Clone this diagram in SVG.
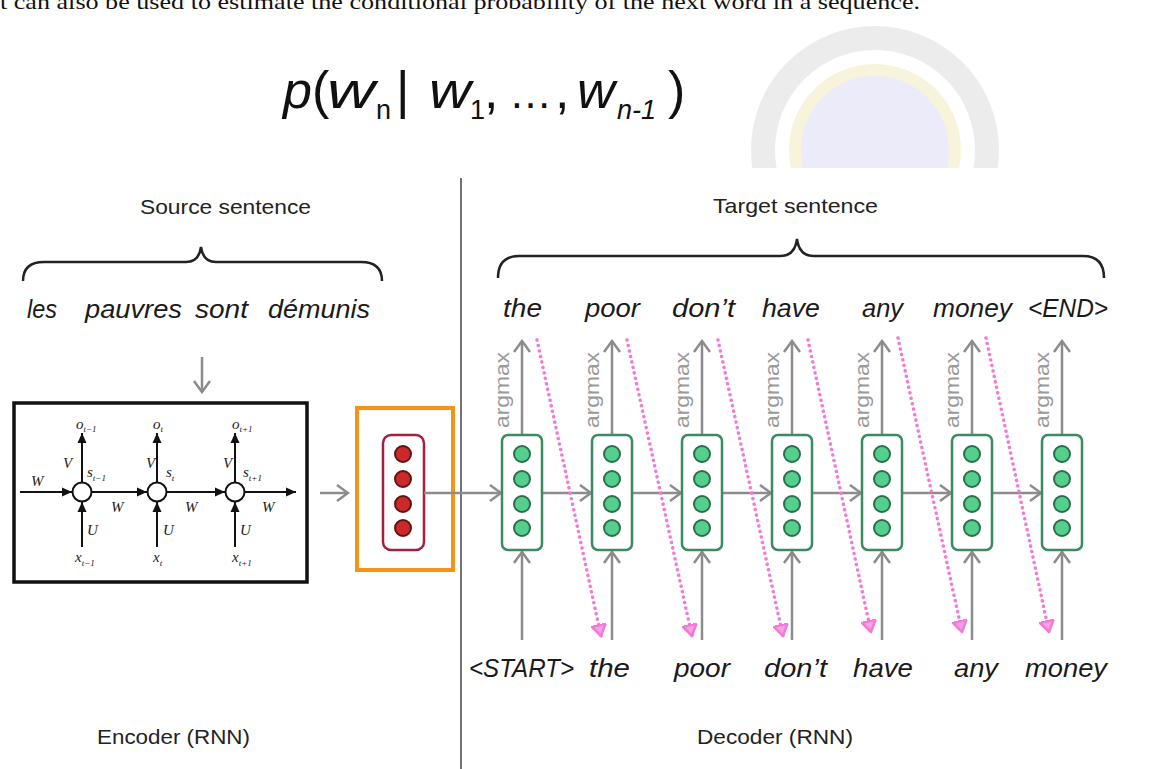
<svg xmlns="http://www.w3.org/2000/svg" width="1168" height="769" viewBox="0 0 1168 769">
<defs>
<style>
.lbl{font-family:"Liberation Sans",Arial,sans-serif;font-size:21px;fill:#222}
.w{font-family:"Liberation Sans",Arial,sans-serif;font-style:italic;font-size:25px;fill:#1a1a1a}
.am{font-family:"Liberation Sans",Arial,sans-serif;font-size:20px;fill:#9a9a9a}
.rt{font-family:"Liberation Serif","Times New Roman",serif;font-style:italic;font-size:15px;fill:#222}
.sub{font-size:9px}
.g{stroke:#8c8c8c;stroke-width:2.5;fill:none}
.k{stroke:#111;stroke-width:2;fill:none}
.pk{stroke:#f07ad6;stroke-width:3.5;fill:none;stroke-dasharray:0.1 5.5;stroke-linecap:round}
.brace{stroke:#222;stroke-width:2.5;fill:none}
.gbox{fill:#fff;stroke:#3a8a62;stroke-width:2.5}
.gc{fill:#55d08c;stroke:#2a6e4c;stroke-width:2}
.rc{fill:#cc2a2a;stroke:#5e1414;stroke-width:2}
</style>
<clipPath id="wmclip"><rect x="694" y="0" width="474" height="168"/></clipPath>
<marker id="gh" markerWidth="14" markerHeight="20" refX="12" refY="10" orient="auto" markerUnits="userSpaceOnUse"><path d="M1,2 L12,10 L1,18" fill="none" stroke="#8c8c8c" stroke-width="2.5"/></marker>
<marker id="kh" markerWidth="11" markerHeight="10" refX="10" refY="5" orient="auto" markerUnits="userSpaceOnUse"><path d="M0,0.5 L10,5 L0,9.5 Z" fill="#111"/></marker>
<marker id="ph" markerWidth="16" markerHeight="16" refX="12" refY="8" orient="auto" markerUnits="userSpaceOnUse"><path d="M1,1 L12,8 L1,15 Z" fill="#f7a0e2" stroke="#f07ad6" stroke-width="2.5" stroke-linejoin="round"/></marker>
</defs>
<rect width="1168" height="769" fill="#fff"/>

<g id="watermark" clip-path="url(#wmclip)">
<circle cx="875" cy="150" r="112" fill="none" stroke="#ececec" stroke-width="24"/>
<circle cx="875" cy="150" r="80" fill="#ebebf9" stroke="#f8f4dc" stroke-width="12"/>
</g>

<text x="0" y="9" font-family="Liberation Serif,'Times New Roman',serif" font-size="22" fill="#111" textLength="920" lengthAdjust="spacingAndGlyphs">t can also be used to estimate the conditional probability of the next word in a sequence.</text>

<g id="formula" font-family="Liberation Sans,Arial,sans-serif" font-size="52" fill="#111">
<text x="283" y="108" font-style="italic">p</text>
<text x="312" y="108">(</text>
<text x="327" y="108" font-style="italic" textLength="48" lengthAdjust="spacingAndGlyphs">w</text>
<text x="376" y="119" font-size="27">n</text>
<text x="396" y="108">|</text>
<text x="429" y="108" font-style="italic" textLength="42" lengthAdjust="spacingAndGlyphs">w</text>
<text x="470" y="119" font-size="27">1</text>
<text x="484" y="108">,</text>
<text x="509" y="108" font-size="44" textLength="43" lengthAdjust="spacingAndGlyphs">…</text>
<text x="555" y="108">,</text>
<text x="577" y="108" font-style="italic" textLength="38" lengthAdjust="spacingAndGlyphs">w</text>
<text x="617" y="119" font-size="27" font-style="italic">n-1</text>
<text x="668" y="108">)</text>
</g>

<line x1="461" y1="178" x2="461" y2="769" stroke="#444" stroke-width="1.5"/>

<g id="source">
<text class="lbl" x="140" y="214" textLength="171" lengthAdjust="spacingAndGlyphs">Source sentence</text>
<path class="brace" d="M23,281 Q23,262 44,262 L186,262 Q199,262 201,247 Q203,262 216,262 L361,262 Q382,262 382,281"/>
<text class="w" x="27" y="318" textLength="30" lengthAdjust="spacingAndGlyphs">les</text>
<text class="w" x="85" y="318" textLength="97" lengthAdjust="spacingAndGlyphs">pauvres</text>
<text class="w" x="195" y="318" textLength="53" lengthAdjust="spacingAndGlyphs">sont</text>
<text class="w" x="268" y="318" textLength="102" lengthAdjust="spacingAndGlyphs">démunis</text>
</g>

<g id="target">
<text class="lbl" x="713" y="213" textLength="165" lengthAdjust="spacingAndGlyphs">Target sentence</text>
<path class="brace" d="M498,278 Q498,256 519,256 L780,256 Q795,256 797,239 Q799,256 814,256 L1083,256 Q1104,256 1104,278"/>
<text class="w" x="503" y="317" textLength="39" lengthAdjust="spacingAndGlyphs">the</text>
<text class="w" x="585" y="317" textLength="55" lengthAdjust="spacingAndGlyphs">poor</text>
<text class="w" x="672" y="317" textLength="63" lengthAdjust="spacingAndGlyphs">don’t</text>
<text class="w" x="762" y="317" textLength="58" lengthAdjust="spacingAndGlyphs">have</text>
<text class="w" x="862" y="317" textLength="41" lengthAdjust="spacingAndGlyphs">any</text>
<text class="w" x="933" y="317" textLength="79" lengthAdjust="spacingAndGlyphs">money</text>
<text class="w" x="1028" y="317" textLength="80" lengthAdjust="spacingAndGlyphs">&lt;END&gt;</text>
</g>

<g id="inputs">
<text class="w" x="469" y="677" textLength="105" lengthAdjust="spacingAndGlyphs">&lt;START&gt;</text>
<text class="w" x="589" y="677" textLength="41" lengthAdjust="spacingAndGlyphs">the</text>
<text class="w" x="674" y="677" textLength="56" lengthAdjust="spacingAndGlyphs">poor</text>
<text class="w" x="764" y="677" textLength="63" lengthAdjust="spacingAndGlyphs">don’t</text>
<text class="w" x="853" y="677" textLength="60" lengthAdjust="spacingAndGlyphs">have</text>
<text class="w" x="954" y="677" textLength="44" lengthAdjust="spacingAndGlyphs">any</text>
<text class="w" x="1025" y="677" textLength="82" lengthAdjust="spacingAndGlyphs">money</text>
</g>

<g id="encoder">
<rect x="14" y="403" width="293" height="179" fill="#fff" stroke="#111" stroke-width="3.5"/>
<circle cx="82" cy="492" r="9.5" fill="#fff" stroke="#111" stroke-width="2"/>
<circle cx="157" cy="492" r="9.5" fill="#fff" stroke="#111" stroke-width="2"/>
<circle cx="235" cy="492" r="9.5" fill="#fff" stroke="#111" stroke-width="2"/>
<path class="k" d="M20,492 L72,492" marker-end="url(#kh)"/>
<path class="k" d="M92,492 L147,492" marker-end="url(#kh)"/>
<path class="k" d="M167,492 L225,492" marker-end="url(#kh)"/>
<path class="k" d="M245,492 L296,492" marker-end="url(#kh)"/>
<path class="k" d="M82,482 L82,433" marker-end="url(#kh)"/>
<path class="k" d="M157,482 L157,433" marker-end="url(#kh)"/>
<path class="k" d="M235,482 L235,433" marker-end="url(#kh)"/>
<path class="k" d="M82,547 L82,502" marker-end="url(#kh)"/>
<path class="k" d="M157,547 L157,502" marker-end="url(#kh)"/>
<path class="k" d="M235,547 L235,502" marker-end="url(#kh)"/>
<text class="rt" x="31" y="486" font-size="16">W</text>
<text class="rt" x="111" y="512" font-size="16">W</text>
<text class="rt" x="185" y="512" font-size="16">W</text>
<text class="rt" x="262" y="512" font-size="16">W</text>
<text class="rt" x="63" y="468" font-size="16">V</text>
<text class="rt" x="146" y="468" font-size="16">V</text>
<text class="rt" x="223" y="468" font-size="16">V</text>
<text class="rt" x="87" y="535" font-size="16">U</text>
<text class="rt" x="163" y="535" font-size="16">U</text>
<text class="rt" x="240" y="535" font-size="16">U</text>
<text class="rt" x="76" y="429" font-size="15">o<tspan class="sub" dy="3">t−1</tspan></text>
<text class="rt" x="153" y="429" font-size="15">o<tspan class="sub" dy="3">t</tspan></text>
<text class="rt" x="232" y="429" font-size="15">o<tspan class="sub" dy="3">t+1</tspan></text>
<text class="rt" x="87" y="477" font-size="14">s<tspan class="sub" dy="4">t−1</tspan></text>
<text class="rt" x="166" y="477" font-size="14">s<tspan class="sub" dy="4">t</tspan></text>
<text class="rt" x="243" y="477" font-size="14">s<tspan class="sub" dy="4">t+1</tspan></text>
<text class="rt" x="75" y="562" font-size="15">x<tspan class="sub" dy="4">t−1</tspan></text>
<text class="rt" x="153" y="562" font-size="15">x<tspan class="sub" dy="4">t</tspan></text>
<text class="rt" x="232" y="562" font-size="15">x<tspan class="sub" dy="4">t+1</tspan></text>
</g>

<g id="context">
<rect x="357" y="408" width="96" height="162" fill="#fff" stroke="#f39419" stroke-width="4"/>
<rect x="383" y="435" width="41" height="115" rx="8" fill="#fff" stroke="#a3213f" stroke-width="2.5"/>
<circle class="rc" cx="403" cy="454" r="8"/>
<circle class="rc" cx="403" cy="479" r="8"/>
<circle class="rc" cx="403" cy="504" r="8"/>
<circle class="rc" cx="403" cy="528" r="8"/>
</g>

<g id="connectors">
<path class="g" d="M320,493 L348,493" marker-end="url(#gh)"/>
<path class="g" d="M424,493 L501,493" marker-end="url(#gh)"/>
<path class="g" d="M542,493 L591,493" marker-end="url(#gh)"/>
<path class="g" d="M632,493 L681,493" marker-end="url(#gh)"/>
<path class="g" d="M722,493 L771,493" marker-end="url(#gh)"/>
<path class="g" d="M812,493 L861,493" marker-end="url(#gh)"/>
<path class="g" d="M902,493 L951,493" marker-end="url(#gh)"/>
<path class="g" d="M992,493 L1041,493" marker-end="url(#gh)"/>
<path class="g" d="M202,357 L202,392" marker-end="url(#gh)"/>
<path class="g" d="M522,435 V341" marker-end="url(#gh)"/>
<path class="g" d="M612,435 V341" marker-end="url(#gh)"/>
<path class="g" d="M702,435 V341" marker-end="url(#gh)"/>
<path class="g" d="M792,435 V341" marker-end="url(#gh)"/>
<path class="g" d="M882,435 V341" marker-end="url(#gh)"/>
<path class="g" d="M972,435 V341" marker-end="url(#gh)"/>
<path class="g" d="M1062,435 V341" marker-end="url(#gh)"/>
<path class="g" d="M522,640 V552" marker-end="url(#gh)"/>
<path class="g" d="M612,640 V552" marker-end="url(#gh)"/>
<path class="g" d="M702,640 V552" marker-end="url(#gh)"/>
<path class="g" d="M792,640 V552" marker-end="url(#gh)"/>
<path class="g" d="M882,640 V552" marker-end="url(#gh)"/>
<path class="g" d="M972,640 V552" marker-end="url(#gh)"/>
<path class="g" d="M1062,640 V552" marker-end="url(#gh)"/>
<path class="pk" d="M537,340 L601,636" marker-end="url(#ph)"/>
<path class="pk" d="M627,340 L692,636" marker-end="url(#ph)"/>
<path class="pk" d="M718,340 L783,636" marker-end="url(#ph)"/>
<path class="pk" d="M808,340 L871,632" marker-end="url(#ph)"/>
<path class="pk" d="M898,338 L962,632" marker-end="url(#ph)"/>
<path class="pk" d="M986,338 L1049,632" marker-end="url(#ph)"/>
</g>

<g id="decoder">
<g id="d1"><rect class="gbox" x="502" y="435" width="40" height="115" rx="6"/><circle class="gc" cx="522" cy="454" r="8"/><circle class="gc" cx="522" cy="479" r="8"/><circle class="gc" cx="522" cy="504" r="8"/><circle class="gc" cx="522" cy="528" r="8"/><text class="am" transform="translate(509,390) rotate(-90)" text-anchor="middle" textLength="76" lengthAdjust="spacingAndGlyphs">argmax</text></g>
<g id="d2"><rect class="gbox" x="592" y="435" width="40" height="115" rx="6"/><circle class="gc" cx="612" cy="454" r="8"/><circle class="gc" cx="612" cy="479" r="8"/><circle class="gc" cx="612" cy="504" r="8"/><circle class="gc" cx="612" cy="528" r="8"/><text class="am" transform="translate(599,390) rotate(-90)" text-anchor="middle" textLength="76" lengthAdjust="spacingAndGlyphs">argmax</text></g>
<g id="d3"><rect class="gbox" x="682" y="435" width="40" height="115" rx="6"/><circle class="gc" cx="702" cy="454" r="8"/><circle class="gc" cx="702" cy="479" r="8"/><circle class="gc" cx="702" cy="504" r="8"/><circle class="gc" cx="702" cy="528" r="8"/><text class="am" transform="translate(689,390) rotate(-90)" text-anchor="middle" textLength="76" lengthAdjust="spacingAndGlyphs">argmax</text></g>
<g id="d4"><rect class="gbox" x="772" y="435" width="40" height="115" rx="6"/><circle class="gc" cx="792" cy="454" r="8"/><circle class="gc" cx="792" cy="479" r="8"/><circle class="gc" cx="792" cy="504" r="8"/><circle class="gc" cx="792" cy="528" r="8"/><text class="am" transform="translate(779,390) rotate(-90)" text-anchor="middle" textLength="76" lengthAdjust="spacingAndGlyphs">argmax</text></g>
<g id="d5"><rect class="gbox" x="862" y="435" width="40" height="115" rx="6"/><circle class="gc" cx="882" cy="454" r="8"/><circle class="gc" cx="882" cy="479" r="8"/><circle class="gc" cx="882" cy="504" r="8"/><circle class="gc" cx="882" cy="528" r="8"/><text class="am" transform="translate(869,390) rotate(-90)" text-anchor="middle" textLength="76" lengthAdjust="spacingAndGlyphs">argmax</text></g>
<g id="d6"><rect class="gbox" x="952" y="435" width="40" height="115" rx="6"/><circle class="gc" cx="972" cy="454" r="8"/><circle class="gc" cx="972" cy="479" r="8"/><circle class="gc" cx="972" cy="504" r="8"/><circle class="gc" cx="972" cy="528" r="8"/><text class="am" transform="translate(959,390) rotate(-90)" text-anchor="middle" textLength="76" lengthAdjust="spacingAndGlyphs">argmax</text></g>
<g id="d7"><rect class="gbox" x="1042" y="435" width="40" height="115" rx="6"/><circle class="gc" cx="1062" cy="454" r="8"/><circle class="gc" cx="1062" cy="479" r="8"/><circle class="gc" cx="1062" cy="504" r="8"/><circle class="gc" cx="1062" cy="528" r="8"/><text class="am" transform="translate(1049,390) rotate(-90)" text-anchor="middle" textLength="76" lengthAdjust="spacingAndGlyphs">argmax</text></g>
</g>

<text class="lbl" x="97" y="744" textLength="153" lengthAdjust="spacingAndGlyphs">Encoder (RNN)</text>
<text class="lbl" x="697" y="744" textLength="156" lengthAdjust="spacingAndGlyphs">Decoder (RNN)</text>
</svg>
